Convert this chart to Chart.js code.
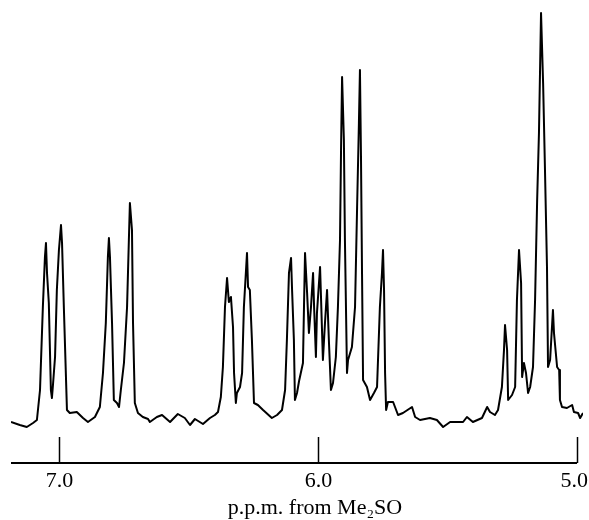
<!DOCTYPE html>
<html>
<head>
<meta charset="utf-8">
<script src="https://cdn.jsdelivr.net/npm/chart.js@4/dist/chart.umd.min.js"></script>
<style>
    html, body { margin: 0; padding: 0; background: #fff; }
    #wrap { width: 589px; height: 520px; position: relative; }
</style>
</head>
<body>
<div id="wrap"><canvas id="nmrChart"></canvas></div>
<script>
// chemical shift (p.p.m.) left to right
const shiftPpm = [
    7.185, 7.151, 7.124, 7.100, 7.085, 7.073, 7.062, 7.054, 7.050, 7.046,
    7.039, 7.031, 7.027, 7.023, 7.015, 7.008, 7.000, 6.992, 6.988, 6.981,
    6.969, 6.958, 6.931, 6.907, 6.888, 6.861, 6.842, 6.830, 6.819, 6.811,
    6.807, 6.803, 6.795, 6.788, 6.776, 6.768, 6.761, 6.749, 6.737, 6.730,
    6.726, 6.718, 6.714, 6.707, 6.695, 6.676, 6.656, 6.649, 6.622, 6.602,
    6.571, 6.541, 6.514, 6.494, 6.475, 6.444, 6.417, 6.398, 6.386, 6.375,
    6.367, 6.359, 6.351, 6.344, 6.336, 6.328, 6.324, 6.317, 6.313, 6.301,
    6.293, 6.286, 6.274, 6.270, 6.263, 6.255, 6.247, 6.232, 6.212, 6.178,
    6.158, 6.139, 6.127, 6.120, 6.112, 6.104, 6.100, 6.093, 6.089, 6.081,
    6.073, 6.058, 6.054, 6.050, 6.042, 6.035, 6.027, 6.019, 6.015, 6.008,
    6.004, 5.992, 5.988, 5.981, 5.973, 5.965, 5.958, 5.950, 5.942, 5.931,
    5.923, 5.915, 5.911, 5.907, 5.900, 5.896, 5.888, 5.884, 5.869, 5.857,
    5.849, 5.842, 5.838, 5.834, 5.830, 5.826, 5.811, 5.799, 5.784, 5.772,
    5.761, 5.753, 5.749, 5.745, 5.741, 5.737, 5.730, 5.710, 5.691, 5.672,
    5.637, 5.625, 5.606, 5.568, 5.541, 5.517, 5.490, 5.463, 5.440, 5.425,
    5.402, 5.367, 5.347, 5.336, 5.317, 5.305, 5.290, 5.282, 5.278, 5.270,
    5.266, 5.251, 5.239, 5.232, 5.224, 5.216, 5.212, 5.205, 5.197, 5.189,
    5.181, 5.170, 5.162, 5.154, 5.147, 5.139, 5.131, 5.124, 5.116, 5.112,
    5.104, 5.093, 5.089, 5.077, 5.069, 5.066, 5.058, 5.039, 5.019, 5.012,
    4.996, 4.988, 4.977
];

// signal height (arbitrary units, 0 = axis line)
const signal = [
    41, 38, 36, 40, 43, 73, 156, 206, 220, 190,
    160, 73, 65, 78, 106, 173, 213, 238, 220, 156,
    53, 50, 51, 45, 41, 46, 56, 90, 140, 206,
    225, 206, 140, 63, 60, 56, 73, 100, 156, 223,
    260, 233, 140, 60, 50, 46, 44, 41, 46, 48,
    41, 49, 45, 38, 44, 39, 45, 48, 51, 66,
    96, 156, 185, 161, 166, 136, 90, 60, 70, 76,
    90, 156, 210, 176, 173, 123, 60, 58, 53, 45,
    48, 53, 73, 123, 190, 205, 173, 123, 63, 70,
    82, 100, 156, 210, 170, 130, 156, 190, 156, 106,
    150, 196, 163, 103, 140, 173, 123, 73, 80, 106,
    156, 223, 313, 386, 323, 223, 90, 103, 116, 156,
    256, 340, 393, 306, 190, 83, 76, 63, 70, 76,
    156, 190, 213, 173, 90, 53, 61, 61, 48, 50,
    56, 46, 43, 45, 43, 36, 41, 41, 41, 46,
    41, 45, 56, 51, 48, 53, 76, 113, 138, 113,
    63, 68, 76, 163, 213, 180, 86, 100, 90, 70,
    76, 96, 163, 263, 330, 450, 380, 296, 196, 96,
    103, 153, 130, 96, 93, 63, 56, 55, 58, 51,
    50, 45, 50
];

const tickValues = [7.0, 6.0, 5.0];
const axisStart = 7.185;
const axisEnd = 5.0;
const axisTitle = 'p.p.m. from Me\u2082SO';

const points = shiftPpm.map((x, i) => ({ x: x, y: signal[i] }));

// axis line, upward tick marks, labels and title drawn from the x scale
const ppmAxis = {
    id: 'ppmAxis',
    afterDraw(chart) {
        const ctx = chart.ctx;
        const xs = chart.scales.x;
        const bottom = chart.chartArea.bottom;
        ctx.save();
        ctx.strokeStyle = '#000';
        ctx.lineWidth = 2;
        ctx.beginPath();
        ctx.moveTo(xs.getPixelForValue(axisStart), bottom);
        ctx.lineTo(xs.getPixelForValue(axisEnd), bottom);
        ctx.stroke();

        ctx.lineWidth = 1.5;
        ctx.font = '22px "Liberation Serif", "DejaVu Serif", serif';
        ctx.fillStyle = '#000';
        ctx.textAlign = 'center';
        ctx.textBaseline = 'alphabetic';
        tickValues.forEach(v => {
            const px = Math.round(xs.getPixelForValue(v)) + 0.5;
            ctx.beginPath();
            ctx.moveTo(px, bottom - 26);
            ctx.lineTo(px, bottom);
            ctx.stroke();
            const label = v.toFixed(1);
            const w = ctx.measureText(label).width;
            const lx = Math.min(px, chart.width - w / 2 - 1);
            ctx.fillText(label, lx, bottom + 24);
        });

        ctx.fillText(axisTitle, xs.getPixelForValue(6.0) - 3, bottom + 51);
        ctx.restore();
    }
};

new Chart(document.getElementById('nmrChart'), {
    type: 'line',
    data: {
        datasets: [{
            data: points,
            borderColor: '#000',
            borderWidth: 2,
            pointRadius: 0,
            fill: false,
            tension: 0,
            borderJoinStyle: 'round'
        }]
    },
    options: {
        responsive: true,
        maintainAspectRatio: false,
        animation: false,
        layout: {
            padding: { left: 11, right: 6, top: 8, bottom: 57 }
        },
        scales: {
            x: {
                type: 'linear',
                reverse: true,
                min: 4.977,
                max: 7.185,
                display: false
            },
            y: {
                min: 0,
                max: 455,
                display: false
            }
        },
        plugins: {
            legend: { display: false },
            tooltip: { enabled: false }
        }
    },
    plugins: [ppmAxis]
});
</script>
</body>
</html>
